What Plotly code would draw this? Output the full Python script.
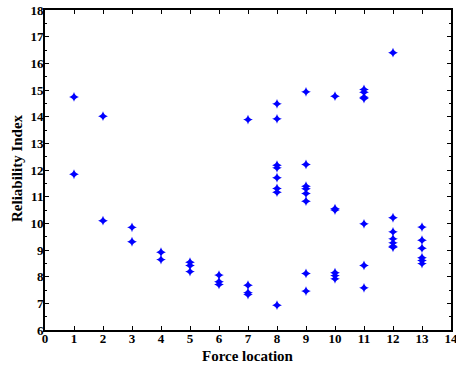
import plotly.graph_objects as go

force_location = [1, 1, 2, 2, 3, 3, 4, 4, 5, 5, 5, 6, 6, 6, 7, 7, 7, 7,
                  8, 8, 8, 8, 8, 8, 8, 8,
                  9, 9, 9, 9, 9, 9, 9, 9,
                  10, 10, 10, 10, 10, 10,
                  11, 11, 11, 11, 11, 11, 11,
                  12, 12, 12, 12, 12, 12, 12,
                  13, 13, 13, 13, 13, 13]
reliability_index = [14.74, 11.84, 14.02, 10.10, 9.85, 9.31, 8.92, 8.64, 8.54, 8.42, 8.19,
                     8.06, 7.81, 7.71, 13.89, 7.68, 7.40, 7.33,
                     14.48, 13.92, 12.18, 12.08, 11.71, 11.31, 11.17, 6.93,
                     14.93, 12.21, 11.39, 11.30, 11.12, 10.83, 8.12, 7.46,
                     14.77, 10.55, 10.50, 8.15, 8.04, 7.92,
                     15.02, 14.92, 14.73, 14.68, 9.98, 8.42, 7.58,
                     16.40, 10.21, 9.68, 9.42, 9.27, 9.14, 9.10,
                     9.86, 9.37, 9.07, 8.71, 8.61, 8.49]

x_ticks = list(range(0, 15))
y_ticks = list(range(6, 19))

font_family = "Liberation Serif, Times New Roman, serif"

W, H = 456, 367
ML, MR, MT, MB = 45, 5, 10, 37

fig = go.Figure()
fig.add_trace(go.Scatter(
    x=force_location, y=reliability_index, mode="markers",
    marker=dict(symbol="star-diamond", size=7, color="#0000ff",
                line=dict(width=0)),
    showlegend=False,
))

axis_common = dict(
    showline=True, linecolor="black", linewidth=2, mirror="ticks",
    ticks="inside", ticklen=4, tickwidth=1, tickcolor="black",
    showgrid=False, zeroline=False, automargin=False,
    ticklabeloverflow="allow",
    tickfont=dict(family=font_family, size=13, color="black", weight="bold"),
)

fig.update_xaxes(range=[0, 14], tickvals=x_ticks, ticktext=[str(v) for v in x_ticks],
                 ticklabelstandoff=-5, **axis_common)
fig.update_yaxes(range=[6, 18], tickvals=y_ticks, ticktext=[str(v) for v in y_ticks],
                 ticklabelstandoff=-3,
                 minor=dict(ticks="inside", ticklen=2, tickcolor="black", dtick=0.5),
                 **axis_common)

plot_w = W - ML - MR
plot_h = H - MT - MB

fig.update_layout(
    width=W, height=H,
    margin=dict(l=ML, r=MR, t=MT, b=MB),
    paper_bgcolor="white", plot_bgcolor="white",
    font=dict(family=font_family, color="black"),
    annotations=[
        dict(text="<b>Force location</b>", x=(248 - ML) / plot_w,
             y=(H - MB - 356) / plot_h, xref="paper", yref="paper",
             xanchor="center", yanchor="middle",
             showarrow=False, font=dict(family=font_family, size=15, color="black")),
        dict(text="<b>Reliability Index</b>", x=(17 - ML) / plot_w,
             y=(H - MB - 168) / plot_h, xref="paper", yref="paper",
             xanchor="center", yanchor="middle",
             textangle=-90, showarrow=False,
             font=dict(family=font_family, size=15, color="black")),
    ],
)

fig.write_html("out.html", config={"displayModeBar": False},
               post_script="document.body.style.margin='0';document.body.style.overflow='hidden';")
